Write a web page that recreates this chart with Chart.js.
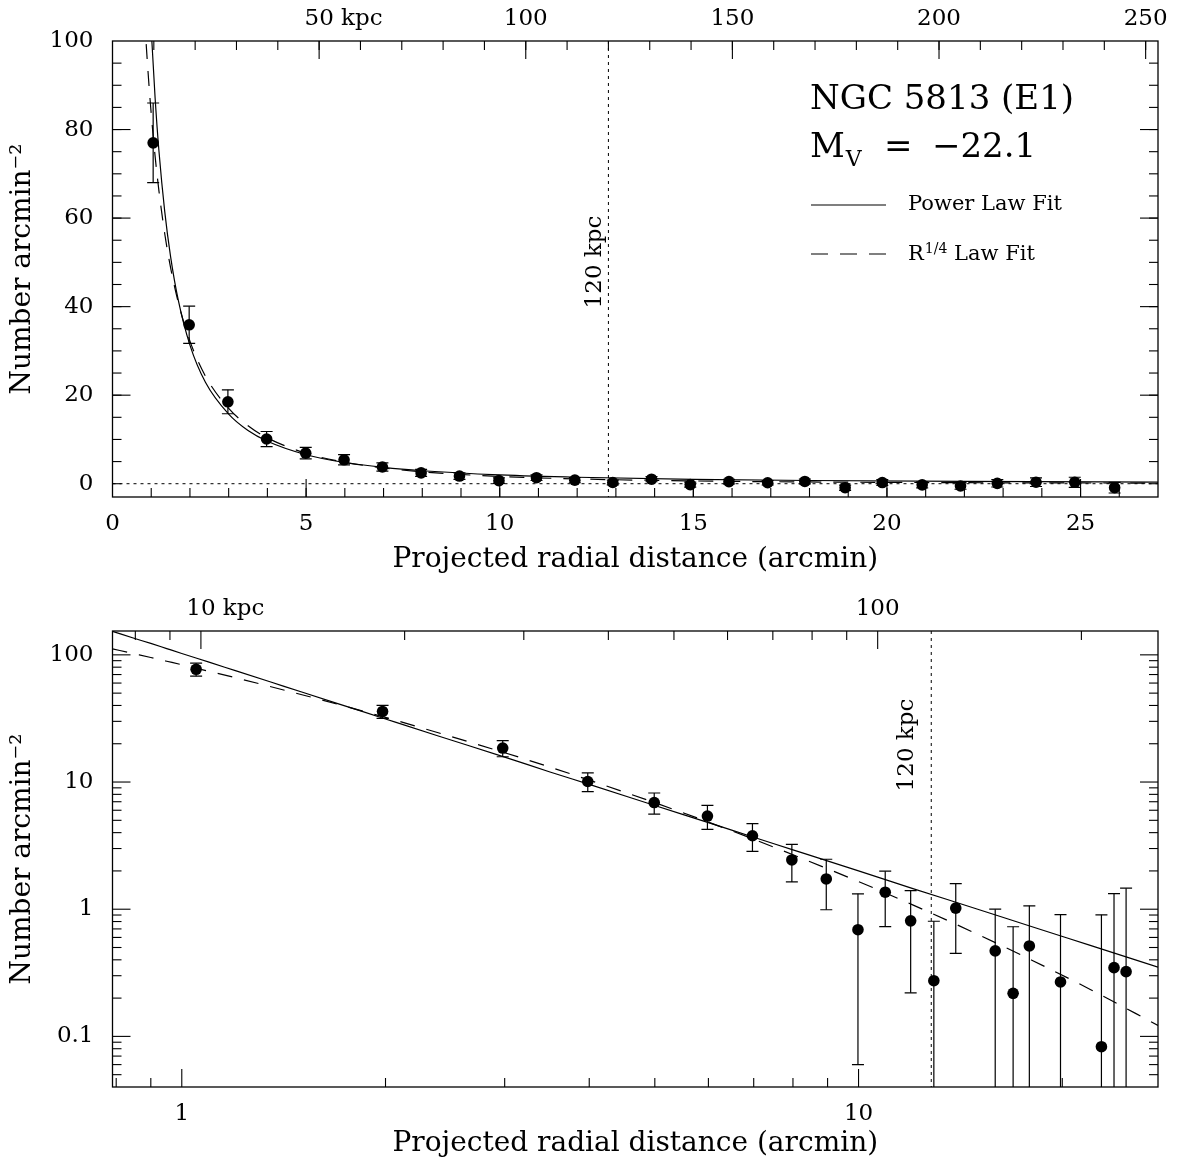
<!DOCTYPE html>
<html>
<head>
<meta charset="utf-8">
<script src="https://cdn.jsdelivr.net/npm/chart.js@4.4.1/dist/chart.umd.min.js"></script>
<style>
  html, body { margin: 0; padding: 0; background: #fff; }
  #wrap { position: relative; width: 1178px; height: 1168px; }
  .panel { position: absolute; left: 0; width: 1178px; }
  #topPanel { top: 0; height: 590px; }
  #botPanel { top: 590px; height: 578px; }
</style>
</head>
<body>
<div id="wrap">
  <div class="panel" id="topPanel"><canvas id="linChart"></canvas></div>
  <div class="panel" id="botPanel"><canvas id="logChart"></canvas></div>
</div>
<script>
// NGC 5813 globular cluster surface density profile
const radius = [1.05, 1.98, 2.98, 3.98, 4.99, 5.98, 6.97, 7.97, 8.96, 9.98, 10.95, 11.94, 12.92,
                13.92, 14.92, 15.92, 16.92, 17.88, 18.92, 19.88, 20.91, 21.90, 22.85, 23.85, 24.85, 25.88];
const density = [77.0, 35.9, 18.5, 10.1, 6.9, 5.4, 3.78, 2.44, 1.73, 0.69, 1.36, 0.81, 0.274,
                 1.02, -0.20, 0.47, 0.218, 0.514, -0.90, 0.268, -0.25, -0.50, 0.083, 0.347, 0.323, -0.90];
const densityErr = [9.0, 4.2, 2.7, 1.7, 1.3, 1.15, 0.93, 0.80, 0.74, 0.63, 0.63, 0.59, 0.53,
                    0.57, 0.55, 0.53, 0.51, 0.55, 0.60, 0.64, 0.70, 0.75, 0.82, 0.98, 1.14, 1.20];

// fitted profiles
const fitR     = [0.79, 0.85, 0.9, 0.95, 1.0, 1.1, 1.2, 1.35, 1.5, 1.7, 2.0, 2.4, 3.0, 3.5, 4, 5, 6, 7, 8, 10, 12, 15, 18, 22, 27.7];
const powerFit = [153, 135, 123, 112, 102.5, 87.2, 75.1, 61.4, 51.3, 41.4, 31.3, 22.9, 15.7, 12.0, 9.58, 6.54, 4.79, 3.68, 2.93, 2.00, 1.46, 1.00, 0.731, 0.519, 0.350];
const devFit   = [111.5, 102.1, 95.3, 89.1, 83.6, 74.0, 66.1, 56.4, 48.8, 40.9, 32.2, 24.3, 17.0, 13.1, 10.35, 6.88, 4.84, 3.55, 2.68, 1.65, 1.087, 0.634, 0.399, 0.234, 0.122];

// tick labels
const linXTicks = [0, 5, 10, 15, 20, 25];
const linYTicks = [0, 20, 40, 60, 80, 100];
const linKpcTicks = [50, 100, 150, 200, 250];
const logXTicks = [1, 10];
const logXLabels = ['1', '10'];
const logYTicks = [0.1, 1, 10, 100];
const logYLabels = ['0.1', '1', '10', '100'];
const logKpcTicks = [10, 100];

const KPC_PER_ARCMIN = 9.37;
const REF_KPC = 120;

const SERIF = '"DejaVu Serif", "Liberation Serif", serif';
const MAJOR = 18, MINOR = 9;

function range(a, b, step) { const out = []; for (let v = a; v <= b + 1e-9; v += step) out.push(+v.toFixed(4)); return out; }
function logMinors(decades) { const out = []; decades.forEach(d => { for (let k = 2; k <= 9; k++) out.push(k * d); }); return out; }

function seg(ctx, x1, y1, x2, y2) { ctx.beginPath(); ctx.moveTo(x1, y1); ctx.lineTo(x2, y2); ctx.stroke(); }

const profilePlugin = {
  id: 'profile',
  beforeDatasetsDraw(chart, args, o) {
    const { ctx, chartArea: a } = chart;
    const xs = chart.scales.x, ys = chart.scales.y;
    ctx.save();
    ctx.beginPath(); ctx.rect(a.left, a.top, a.right - a.left, a.bottom - a.top); ctx.clip();
    ctx.strokeStyle = '#000';
    ctx.lineWidth = 1;
    ctx.setLineDash([3, 4]);
    const xr = chart.scales.xk.getPixelForValue(REF_KPC);
    seg(ctx, xr, a.top, xr, a.bottom);
    if (!o.log) { const y0 = ys.getPixelForValue(0); seg(ctx, a.left, y0, a.right, y0); }
    ctx.setLineDash([]);
    ctx.lineWidth = 1.2;
    radius.forEach((r, i) => {
      const d = density[i], e = densityErr[i];
      if (o.log && d <= 0) return;
      const px = xs.getPixelForValue(r);
      const yHi = ys.getPixelForValue(d + e);
      const loOk = !o.log || d - e > 0;
      const yLo = loOk ? ys.getPixelForValue(d - e) : a.bottom + 5;
      seg(ctx, px, yHi, px, yLo);
      seg(ctx, px - 6, yHi, px + 6, yHi);
      if (loOk) seg(ctx, px - 6, yLo, px + 6, yLo);
    });
    ctx.restore();
  },
  afterDraw(chart, args, o) {
    const { ctx, chartArea: a } = chart;
    const xs = chart.scales.x, ys = chart.scales.y, ks = chart.scales.xk;
    ctx.save();
    ctx.strokeStyle = '#000';
    ctx.fillStyle = '#000';
    ctx.lineWidth = 1.3;
    ctx.strokeRect(a.left, a.top, a.right - a.left, a.bottom - a.top);
    ctx.lineWidth = 1.1;
    const tx = (vals, len) => vals.forEach(v => { const p = xs.getPixelForValue(v); if (p > a.left + 1 && p < a.right - 1) seg(ctx, p, a.bottom, p, a.bottom - len); });
    const tk = (vals, len) => vals.forEach(v => { const p = ks.getPixelForValue(v); if (p > a.left + 1 && p < a.right - 1) seg(ctx, p, a.top, p, a.top + len); });
    const ty = (vals, len) => vals.forEach(v => { const p = ys.getPixelForValue(v); if (p > a.top + 1 && p < a.bottom - 1) { seg(ctx, a.left, p, a.left + len, p); seg(ctx, a.right, p, a.right - len, p); } });
    tx(o.xMajor, MAJOR); tx(o.xMinor, MINOR);
    tk(o.kMajor, MAJOR); tk(o.kMinor, MINOR);
    ty(o.yMajor, MAJOR); ty(o.yMinor, MINOR);

    // kpc labels along the top
    ctx.font = '23px ' + SERIF;
    ctx.textBaseline = 'middle';
    o.kMajor.forEach((v, i) => {
      const p = ks.getPixelForValue(v);
      const s = String(v);
      ctx.textAlign = 'center';
      ctx.fillText(s, p, a.top - 22);
      if (i === 0) { ctx.textAlign = 'left'; ctx.fillText(' kpc', p + ctx.measureText(s).width / 2, a.top - 22); }
    });

    // 120 kpc marker label
    const xr = ks.getPixelForValue(REF_KPC);
    ctx.save();
    ctx.translate(xr - o.refOffset, o.refY);
    ctx.rotate(-Math.PI / 2);
    ctx.textAlign = 'center';
    ctx.font = '23px ' + SERIF;
    ctx.fillText('120 kpc', 0, 0);
    ctx.restore();

    if (o.legend) {
      ctx.textAlign = 'left';
      ctx.textBaseline = 'middle';
      ctx.font = '34px ' + SERIF;
      ctx.fillText('NGC 5813 (E1)', 810, 100);
      ctx.fillText('M', 810, 148);
      const x0 = 810 + ctx.measureText('M').width + 1;
      ctx.font = '22px ' + SERIF;
      ctx.fillText('V', x0, 160);
      ctx.font = '34px ' + SERIF;
      ctx.fillText('=', 884, 148);
      ctx.fillText('\u221222.1', 932, 148);

      ctx.lineWidth = 1.2;
      seg(ctx, 811, 205, 886, 205);
      ctx.setLineDash([17, 12]);
      seg(ctx, 811, 254, 886, 254);
      ctx.setLineDash([]);
      ctx.font = '21px ' + SERIF;
      ctx.fillText('Power Law Fit', 908, 205);
      ctx.fillText('R', 908, 255);
      let x = 908 + ctx.measureText('R').width + 1;
      ctx.font = '14px ' + SERIF;
      ctx.fillText('1/4', x, 249);
      x += ctx.measureText('1/4').width;
      ctx.font = '21px ' + SERIF;
      ctx.fillText(' Law Fit', x, 255);
    }
    ctx.restore();
  }
};

function datasets(isLog) {
  const pts = radius.map((r, i) => ({ x: r, y: density[i] })).filter(p => !isLog || p.y > 0);
  return [
    { label: 'Counts', data: pts, showLine: false, pointRadius: 5.8, pointHoverRadius: 5.8,
      pointBackgroundColor: '#000', pointBorderWidth: 0 },
    { label: 'Power Law Fit', data: fitR.map((r, i) => ({ x: r, y: powerFit[i] })), showLine: true,
      borderColor: '#000', borderWidth: 1.2, pointRadius: 0, cubicInterpolationMode: 'monotone', clip: 0 },
    { label: 'R1/4 Law Fit', data: fitR.map((r, i) => ({ x: r, y: devFit[i] })), showLine: true,
      borderColor: '#000', borderWidth: 1.2, borderDash: [15, 12], pointRadius: 0, cubicInterpolationMode: 'monotone', clip: 0 }
  ];
}

function axis(extra) {
  return Object.assign({
    grid: { display: false, drawTicks: false },
    border: { display: false },
  }, extra);
}

function build(canvasId, isLog, bottomH, titlePadBottom, pluginOpts) {
  const tickFont = { family: SERIF, size: 23 };
  const titleFont = { family: SERIF, size: 28 };
  const xTicks = isLog ? logXTicks : linXTicks;
  const yTicks = isLog ? logYTicks : linYTicks;
  return new Chart(document.getElementById(canvasId), {
    type: 'scatter',
    data: { datasets: datasets(isLog) },
    options: {
      responsive: true,
      maintainAspectRatio: false,
      animation: false,
      events: [],
      layout: { padding: { left: 0, right: 20, top: 0, bottom: 0 } },
      plugins: { legend: { display: false }, tooltip: { enabled: false }, profile: pluginOpts },
      scales: {
        x: axis({
          type: isLog ? 'logarithmic' : 'linear', position: 'bottom',
          min: isLog ? 0.79 : 0, max: isLog ? 27.7 : 27,
          afterBuildTicks: s => { s.ticks = xTicks.map(v => ({ value: v })); },
          afterFit: s => { s.height = bottomH; },
          ticks: { color: '#000', font: tickFont, padding: 13, autoSkip: false, maxRotation: 0,
                   callback: (v, i) => isLog ? logXLabels[i] : String(v) },
          title: { display: true, text: 'Projected radial distance (arcmin)', color: '#000', font: titleFont,
                   padding: { top: 0, bottom: titlePadBottom } }
        }),
        xk: axis({
          axis: 'x', type: isLog ? 'logarithmic' : 'linear', position: 'top',
          min: (isLog ? 0.79 : 0) * KPC_PER_ARCMIN, max: (isLog ? 27.7 : 27) * KPC_PER_ARCMIN,
          afterFit: s => { s.height = 41; },
          ticks: { display: false }
        }),
        y: axis({
          type: isLog ? 'logarithmic' : 'linear', position: 'left',
          min: isLog ? 0.04 : -3, max: isLog ? 154 : 100,
          afterBuildTicks: s => { s.ticks = yTicks.map(v => ({ value: v })); },
          afterFit: s => { s.width = 112.5; },
          ticks: { color: '#000', font: tickFont, padding: 19, autoSkip: false,
                   callback: (v, i) => isLog ? logYLabels[i] : String(v) },
          title: { display: true, text: 'Number arcmin\u207B\u00B2', color: '#000', font: titleFont,
                   padding: { top: 6, bottom: 0 } }
        })
      }
    },
    plugins: [profilePlugin]
  });
}

build('linChart', false, 93, 13, {
  log: false, legend: true, refOffset: 13, refY: 262,
  xMajor: range(5, 25, 5), xMinor: range(1, 26, 1),
  kMajor: linKpcTicks, kMinor: range(10, 250, 10),
  yMajor: range(20, 80, 20), yMinor: range(0, 95, 5)
});

build('logChart', true, 81, 7, {
  log: true, legend: false, refOffset: 24, refY: 155,
  xMajor: logXTicks, xMinor: [0.8, 0.9].concat(logMinors([1]), [20]),
  kMajor: logKpcTicks, kMinor: [8, 9].concat(logMinors([10]), [200]),
  yMajor: logYTicks, yMinor: [0.04, 0.05, 0.06, 0.07, 0.08, 0.09].concat(logMinors([0.1, 1, 10]))
});
</script>
</body>
</html>
